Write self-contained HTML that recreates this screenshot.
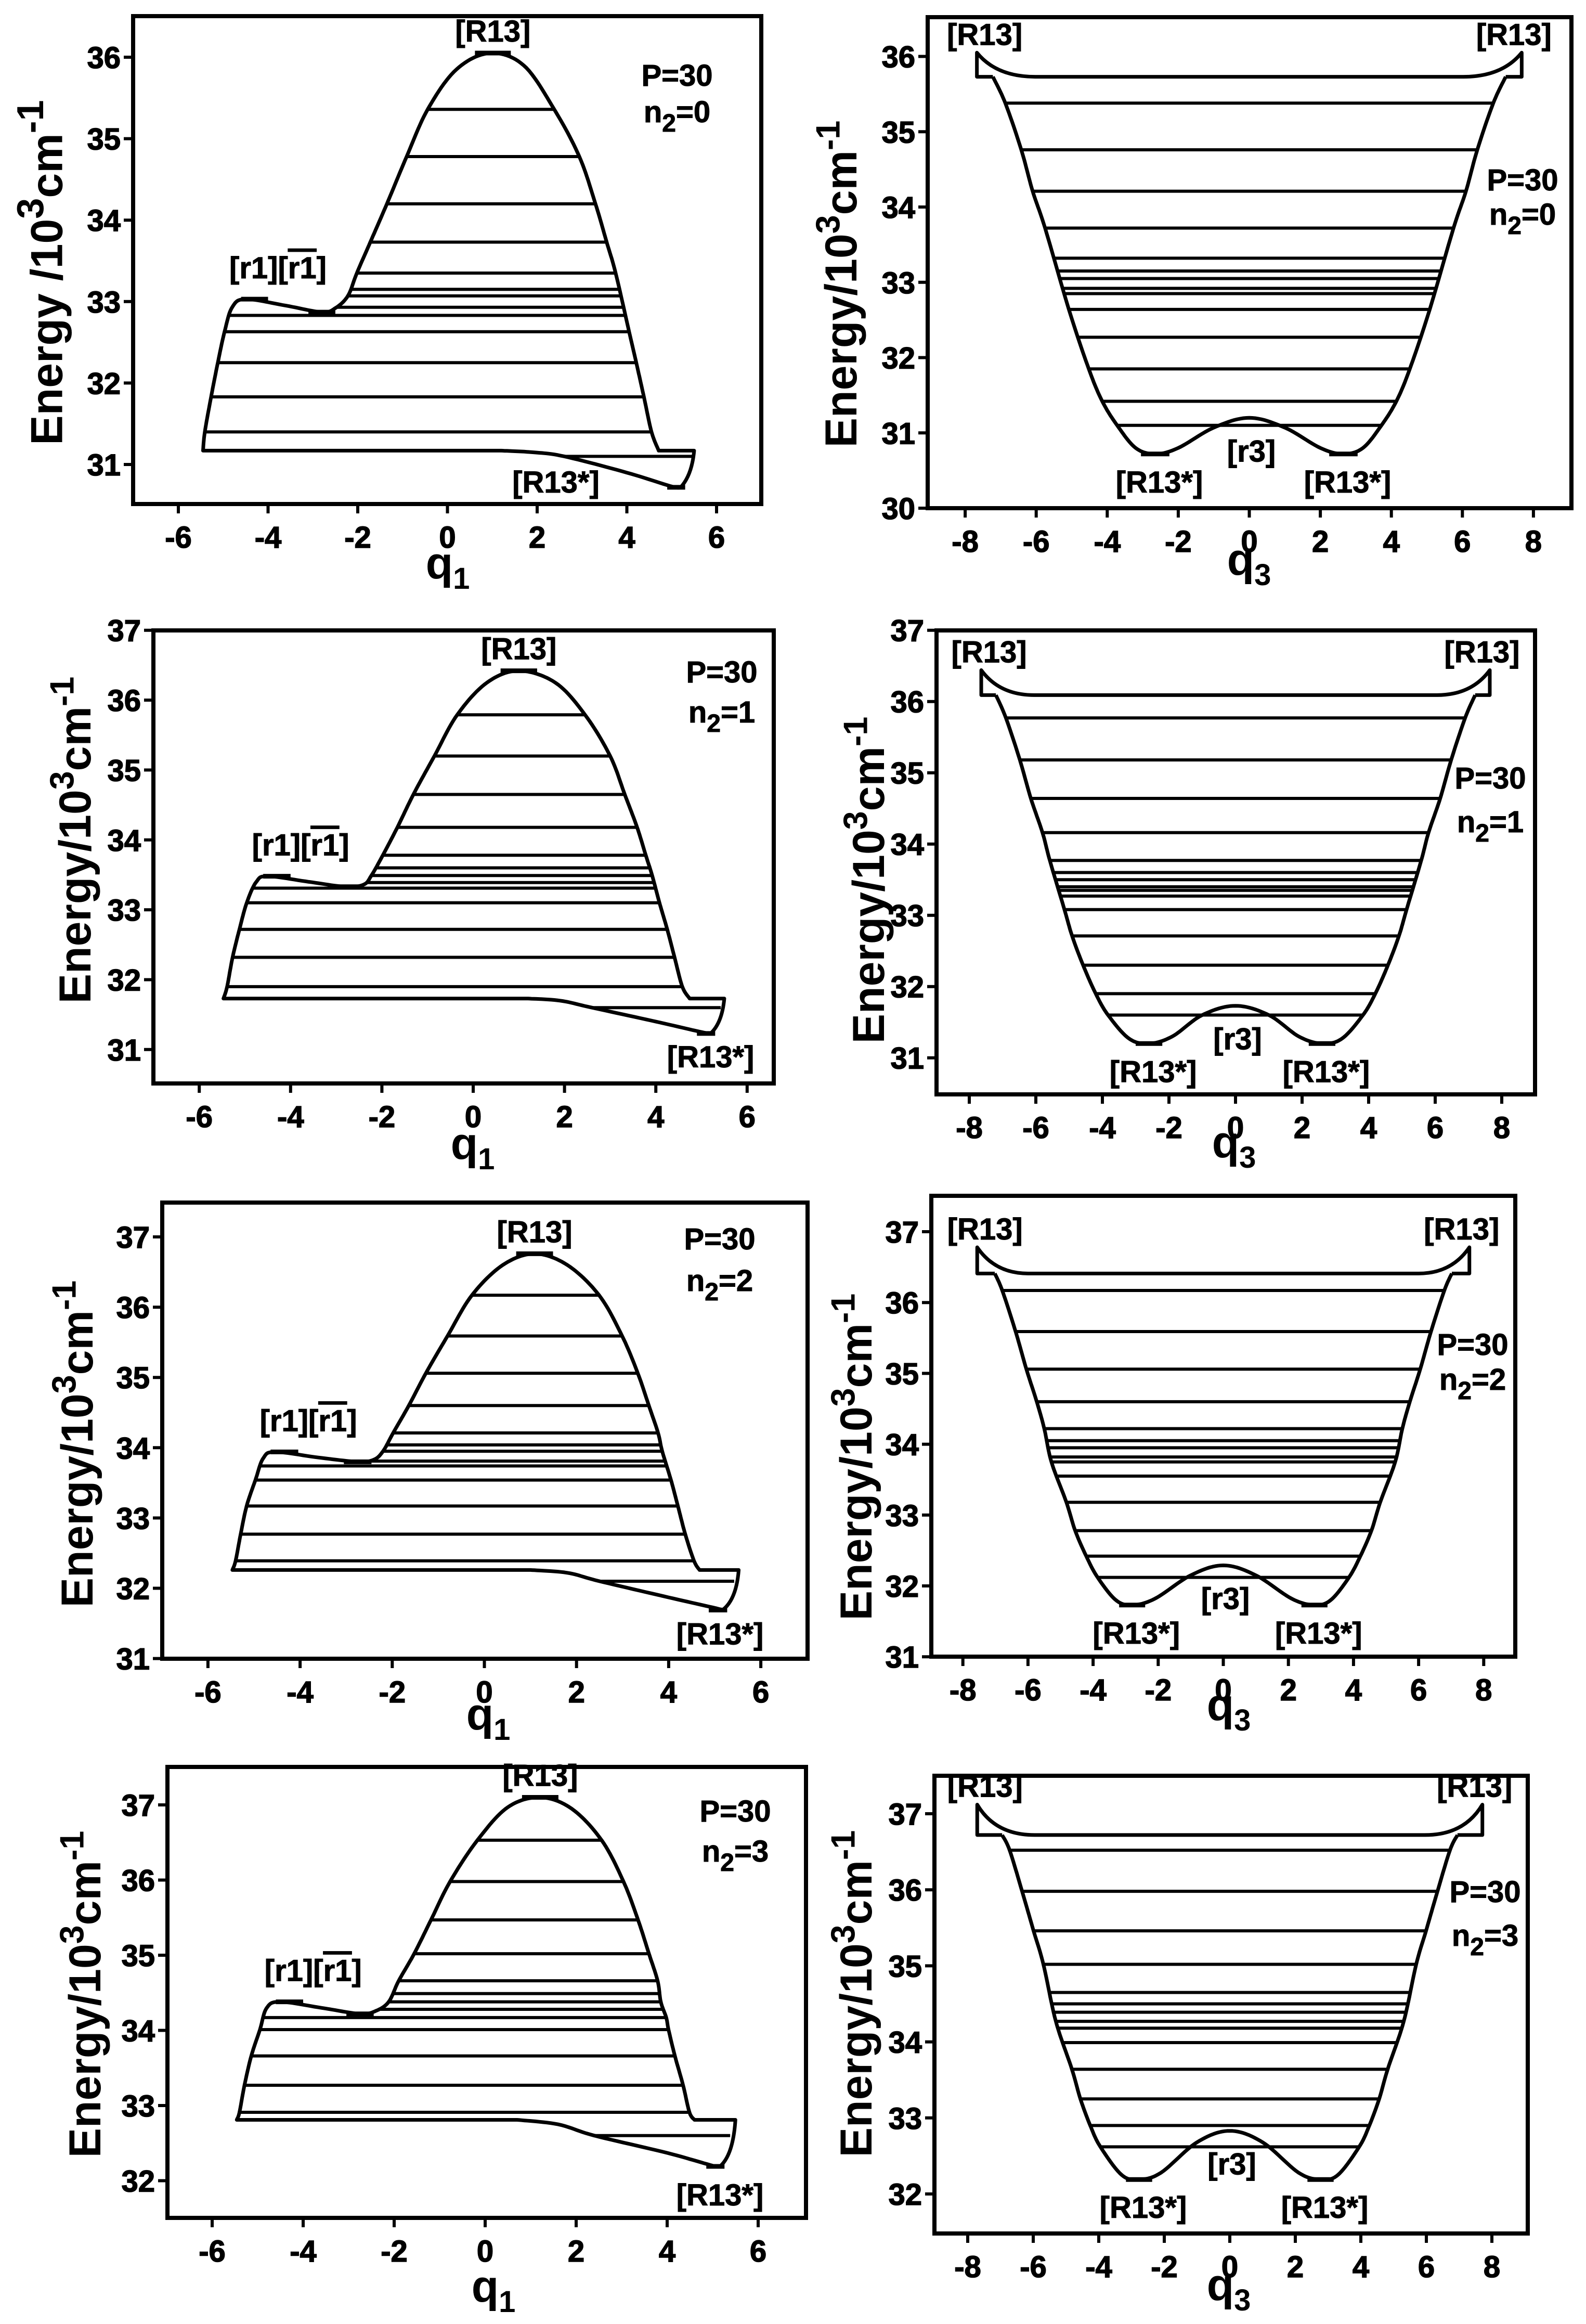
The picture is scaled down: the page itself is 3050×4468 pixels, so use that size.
<!DOCTYPE html>
<html lang="en">
<head>
<meta charset="utf-8">
<title>Energy level diagrams P=30</title>
<style>
  html,body{margin:0;padding:0;background:#fff;}
  svg{display:block;}
  .tick{font-family:"Liberation Sans Narrow","Liberation Sans",sans-serif;font-weight:bold;font-size:58px;fill:#000;stroke:#000;stroke-width:1.5px;}
  .ann{font-family:"Liberation Sans Narrow","Liberation Sans",sans-serif;font-weight:bold;font-size:58px;fill:#000;stroke:#000;stroke-width:1px;}
  .title{font-family:"Liberation Sans",sans-serif;font-weight:bold;font-size:86px;fill:#000;}
</style>
</head>
<body>
<svg id="chart" xmlns="http://www.w3.org/2000/svg" width="3050" height="4468" viewBox="0 0 3050 4468">
  <rect x="0" y="0" width="3050" height="4468" fill="#fff"/>
</svg>
<script>
// ---------------- data ----------------
const leftXTicks = [-6,-4,-2,0,2,4,6];
const rightXTicks = [-8,-6,-4,-2,0,2,4,6,8];
const p1YTicks = [31,32,33,34,35,36];
const p2YTicks = [30,31,32,33,34,35,36];
const p3YTicks = [31,32,33,34,35,36,37];
const p4YTicks = [31,32,33,34,35,36,37];
const p5YTicks = [31,32,33,34,35,36,37];
const p6YTicks = [31,32,33,34,35,36,37];
const p7YTicks = [32,33,34,35,36,37];
const p8YTicks = [32,33,34,35,36,37];

const p1Curve = [[-5.45,31.17],[-5.41,31.4],[-5.27,31.83],[-5.12,32.25],[-4.97,32.63],[-4.8,32.93],[-4.5,33.03],[-3.6,32.95],[-2.8,32.87],[-2.5,32.92],[-2.22,33.07],[-2.02,33.35],[-1.72,33.73],[-1.35,34.2],[-0.91,34.78],[-0.44,35.36],[0.2,35.85],[0.95,36.05],[1.7,35.9],[2.38,35.36],[2.94,34.78],[3.3,34.2],[3.55,33.73],[3.75,33.35],[4.05,32.63],[4.21,32.25],[4.38,31.83],[4.55,31.4],[4.71,31.17]];
const p1Levels = [31.4,31.83,32.25,32.63,32.83,32.93,33.07,33.15,33.35,33.73,34.2,34.78,35.36];
const p1Tail = [[1.2,31.17],[1.9,31.15],[2.6,31.1],[4.0,30.9],[5.0,30.73],[5.2,30.72]];
const p1TailLevels = [31.1];
const p1Right = [5.5];
const p1R1 = [-4.5,33.03];
const p1Dip = [-2.8,32.87];

const p3Curve = [[-5.47,31.73],[-5.39,31.9],[-5.27,32.32],[-5.12,32.72],[-4.96,33.1],[-4.75,33.4],[-4.5,33.48],[-3.6,33.4],[-2.8,33.33],[-2.4,33.36],[-2.23,33.49],[-1.98,33.78],[-1.66,34.18],[-1.31,34.65],[-0.85,35.2],[-0.35,35.79],[0.3,36.25],[1.0,36.42],[1.8,36.25],[2.45,35.79],[3.0,35.2],[3.32,34.65],[3.59,34.18],[3.78,33.78],[3.92,33.49],[4.08,33.1],[4.25,32.72],[4.41,32.32],[4.58,31.9],[4.74,31.73]];
const p3Levels = [31.9,32.32,32.72,33.1,33.31,33.39,33.49,33.6,33.78,34.18,34.65,35.2,35.79];
const p3Tail = [[1.2,31.73],[1.9,31.7],[2.6,31.6],[4.0,31.4],[5.0,31.25],[5.2,31.23]];
const p3TailLevels = [31.6];
const p3Right = [5.5];
const p3R1 = [-4.5,33.48];
const p3Dip = [-2.8,33.33];

const p5Curve = [[-5.47,32.26],[-5.4,32.39],[-5.29,32.77],[-5.16,33.17],[-4.97,33.54],[-4.8,33.85],[-4.54,33.94],[-3.6,33.86],[-2.75,33.8],[-2.4,33.83],[-2.2,33.95],[-1.98,34.21],[-1.64,34.6],[-1.27,35.06],[-0.8,35.59],[-0.27,36.17],[0.4,36.6],[1.09,36.76],[1.8,36.6],[2.49,36.17],[2.99,35.59],[3.33,35.06],[3.57,34.6],[3.77,34.21],[3.86,33.95],[4.05,33.54],[4.2,33.17],[4.36,32.77],[4.55,32.39],[4.67,32.26]];
const p5Levels = [32.39,32.77,33.17,33.54,33.74,33.81,33.95,34.04,34.21,34.6,35.06,35.59,36.17];
const p5Tail = [[1.0,32.26],[1.8,32.22],[2.5,32.1],[4.0,31.87],[5.0,31.72],[5.17,31.69]];
const p5TailLevels = [32.1];
const p5Right = [5.52];
const p5R1 = [-4.54,33.94];
const p5Dip = [-2.75,33.8];

const p7Curve = [[-5.46,32.81],[-5.4,32.91],[-5.29,33.27],[-5.14,33.66],[-4.95,34.01],[-4.8,34.3],[-4.5,34.38],[-3.6,34.3],[-2.75,34.22],[-2.4,34.26],[-2.12,34.38],[-1.9,34.66],[-1.56,35.02],[-1.19,35.47],[-0.77,35.98],[-0.17,36.53],[0.5,36.97],[1.21,37.1],[1.9,36.95],[2.56,36.53],[3.04,35.98],[3.36,35.47],[3.6,35.02],[3.79,34.66],[3.86,34.38],[3.98,34.17],[4.03,34.01],[4.17,33.66],[4.35,33.27],[4.49,32.91],[4.6,32.81]];
const p7Levels = [32.91,33.27,33.66,34.01,34.17,34.28,34.38,34.49,34.66,35.02,35.47,35.98,36.53];
const p7Tail = [[0.7,32.81],[1.6,32.75],[2.4,32.6],[4.0,32.37],[5.0,32.2],[5.16,32.19]];
const p7TailLevels = [32.6];
const p7Right = [5.5];
const p7R1 = [-4.5,34.38];
const p7Dip = [-2.75,34.22];

const p2Half = [[-7.22,35.73],[-6.87,35.38],[-6.42,34.76],[-6.1,34.21],[-5.75,33.72],[-5.08,32.64],[-4.52,31.85],[-4.14,31.42],[-3.72,31.1],[-3.2,30.8],[-2.65,30.72],[-2.0,30.8],[-1.0,31.07],[0,31.2]];
const p2Cap = [-7.67,36.05,-6.03,35.73];
const p2Levels = [31.1,31.42,31.85,32.27,32.64,32.85,32.92,33.05,33.15,33.32,33.72,34.21,34.76,35.38];

const p4Half = [[-7.2,36.09],[-6.9,35.77],[-6.48,35.18],[-6.15,34.64],[-5.8,34.16],[-5.58,33.77],[-5.14,33.08],[-4.91,32.71],[-4.58,32.3],[-4.2,31.9],[-3.83,31.6],[-3.2,31.27],[-2.6,31.2],[-1.9,31.3],[-1.0,31.6],[0,31.73]];
const p4Cap = [-7.64,36.44,-6.05,36.09];
const p4Levels = [31.6,31.9,32.3,32.71,33.08,33.27,33.35,33.4,33.5,33.6,33.77,34.16,34.64,35.18,35.77];

const p6Half = [[-7.02,36.41],[-6.79,36.17],[-6.38,35.59],[-6.05,35.06],[-5.73,34.6],[-5.5,34.22],[-5.28,33.75],[-4.82,33.18],[-4.55,32.78],[-4.21,32.42],[-3.86,32.12],[-3.3,31.8],[-2.8,31.73],[-2.1,31.82],[-1.0,32.15],[0,32.29]];
const p6Cap = [-7.56,36.78,-6.0,36.41];
const p6Levels = [32.12,32.42,32.78,33.18,33.55,33.75,33.82,33.95,34.05,34.22,34.6,35.06,35.59,36.17];

const p8Half = [[-6.95,36.72],[-6.72,36.52],[-6.34,35.98],[-5.99,35.46],[-5.69,35.02],[-5.31,34.27],[-4.82,33.64],[-4.56,33.25],[-4.26,32.9],[-3.95,32.62],[-3.3,32.25],[-2.77,32.19],[-2.1,32.28],[-1.0,32.68],[0,32.83]];
const p8Cap = [-7.71,37.12,-5.96,36.72];
const p8Levels = [32.62,32.9,33.25,33.64,33.99,34.18,34.27,34.39,34.5,34.65,35.02,35.46,35.98,36.52];

// ---------------- layout (pixels) ----------------
const layouts = {
  p1:{frame:[256,31,1464,969],x0:860.5,xs:86.25,eRef:36,yRef:110,ys:156.6,ytitle:[86,524],ytSize:96,xtitle:[861,1112],pn:[1302,143,213],n2:'0',sep:' /10',r13s:[-240,-10]},
  p2:{frame:[1784,33,3022,977],x0:2402.5,xs:68.3,eRef:36,yRef:108.5,ys:144.75,ytitle:[1617,546],ytSize:86,xtitle:[2402,1105],pn:[2928,344,410],n2:'0',sep:'/10'},
  p3:{frame:[295,1212,1488,2083],x0:910,xs:87.8,eRef:37,yRef:1211.7,ys:134.35,ytitle:[144,1615],ytSize:86,xtitle:[909,2228],pn:[1388,1290,1367],n2:'1',sep:'/10',r13s:[0,45]},
  p4:{frame:[1801,1212,2952,2104],x0:2376,xs:64,eRef:37,yRef:1211.7,ys:137,ytitle:[1670,1692],ytSize:86,xtitle:[2373,2225],pn:[2866,1494,1578],n2:'1',sep:'/10'},
  p5:{frame:[312,2312,1553,3189],x0:931.5,xs:88.6,eRef:37,yRef:2378,ys:135.1,ytitle:[148,2776],ytSize:86,xtitle:[939,3325],pn:[1384,2380,2460],n2:'2',sep:'/10',r13s:[-5,46]},
  p6:{frame:[1791,2299,2914,3185],x0:2352.5,xs:62.6,eRef:37,yRef:2368,ys:136.2,ytitle:[1646,2801],ytSize:86,xtitle:[2363,3307],pn:[2832,2583,2650],n2:'2',sep:'/10'},
  p7:{frame:[322,3397,1550,4264],x0:933,xs:87.5,eRef:37,yRef:3470,ys:144.5,ytitle:[163,3834],ytSize:86,xtitle:[949,4425],pn:[1414,3480,3557],n2:'3',sep:'/10',r13s:[0,55]},
  p8:{frame:[1797,3414,2938,4294],x0:2365,xs:63,eRef:37,yRef:3487,ys:146.2,ytitle:[1646,3833],ytSize:86,xtitle:[2363,4422],pn:[2856,3635,3719],n2:'3',sep:'/10'}
};

// ---------------- helpers ----------------
const NS = 'http://www.w3.org/2000/svg';
const svg = document.getElementById('chart');
function mk(tag, attrs, parent){
  const e = document.createElementNS(NS, tag);
  for (const k in attrs) e.setAttribute(k, attrs[k]);
  (parent || svg).appendChild(e);
  return e;
}
function sample(pts){
  const out=[]; const n=pts.length;
  for(let i=0;i<n-1;i++){
    const p0=pts[Math.max(i-1,0)],p1=pts[i],p2=pts[i+1],p3=pts[Math.min(i+2,n-1)];
    for(let k=0;k<12;k++){
      const t=k/12,t2=t*t,t3=t2*t;
      const f=(a,b,c,d)=>0.5*(2*b+(-a+c)*t+(2*a-5*b+4*c-d)*t2+(-a+3*b-3*c+d)*t3);
      out.push([f(p0[0],p1[0],p2[0],p3[0]),f(p0[1],p1[1],p2[1],p3[1])]);
    }
  }
  out.push(pts[n-1]);
  return out;
}
function scales(L){
  return {sx:q=>L.x0+q*L.xs, sy:E=>L.yRef+(L.eRef-E)*L.ys};
}
function pathFrom(s, S){
  return s.map((p,i)=>(i?'L':'M')+S.sx(p[0]).toFixed(1)+' '+S.sy(p[1]).toFixed(1)).join(' ');
}
function interpX(a,b,E){ return a[0]+(E-a[1])/(b[1]-a[1])*(b[0]-a[0]); }

function drawAxes(g, L, S, yTicks, xTicks, xVar, id){
  const [x1,y1,x2,y2]=L.frame;
  const fr = mk('rect',{x:x1,y:y1,width:x2-x1,height:y2-y1,fill:'none',stroke:'#000','stroke-width':8},g);
  
  
  yTicks.forEach(v=>{
    const y=S.sy(v);
    const t=mk('line',{x1:x1-18,y1:y,x2:x1,y2:y,stroke:'#000','stroke-width':6},g);
    
    
    const lb=mk('text',{x:x1-24,y:y+21,'text-anchor':'end',class:'tick'},g);
    lb.textContent=String(v);
    
    
  });
  xTicks.forEach(v=>{
    const x=S.sx(v);
    const t=mk('line',{x1:x,y1:y2,x2:x,y2:y2+18,stroke:'#000','stroke-width':6},g);
    
    
    const lb=mk('text',{x:x,y:y2+84,'text-anchor':'middle',class:'tick'},g);
    lb.textContent=String(v);
    
    
  });
  const fs=L.ytSize;
  const yt=mk('text',{x:0,y:0,'text-anchor':'middle',class:'title','font-size':fs,transform:'translate('+L.ytitle[0]+','+(L.ytitle[1])+') rotate(-90) translate(0,'+(fs*0.35)+')'},g);
  
  
  let a=mk('tspan',{},yt); a.textContent='Energy'+L.sep;
  let b=mk('tspan',{dy:-fs*0.38,'font-size':fs*0.75},yt); b.textContent='3';
  let c=mk('tspan',{dy:fs*0.38},yt); c.textContent='cm';
  let d=mk('tspan',{dy:-fs*0.38,'font-size':fs*0.75},yt); d.textContent='-1';
  const xt=mk('text',{x:L.xtitle[0],y:L.xtitle[1],'text-anchor':'middle',class:'title','font-size':80},g);
  
  
  let q=mk('tspan',{},xt); q.textContent='q';
  let qs=mk('tspan',{dy:20,'font-size':58},xt); qs.textContent=xVar;
  const p=mk('text',{x:L.pn[0],y:L.pn[1]+22,'text-anchor':'middle',class:'ann','font-size':62},g);
  p.textContent='P=30';
  
  
  const n=mk('text',{x:L.pn[0],y:L.pn[2]+22,'text-anchor':'middle',class:'ann','font-size':62},g);
  
  
  let n1=mk('tspan',{},n); n1.textContent='n';
  let n2=mk('tspan',{dy:18,'font-size':48},n); n2.textContent='2';
  let n3=mk('tspan',{dy:-18},n); n3.textContent='='+L.n2;
}

function mark(g,S,xa,xb,E,name){
  const m=mk('line',{x1:S.sx(xa),y1:S.sy(E),x2:S.sx(xb),y2:S.sy(E),stroke:'#000','stroke-width':9},g);
  
  
}

function drawLeft(id, L, curve, levels, tail, tailLevels, right, r1, dip, yTicks){
  const g=mk('g',{});
  
  
  const S=scales(L);
  drawAxes(g,L,S,yTicks,leftXTicks,'1',id);
  const s=sample(curve);
  const base=curve[0][1];
  let pk=0; s.forEach((p,i)=>{ if(p[1]>s[pk][1]) pk=i; });
  levels.forEach(E=>{
    let i=pk; while(i>0 && s[i-1][1]>E) i--;
    const xl = i===0 ? s[0][0] : interpX(s[i-1],s[i],E);
    let j=pk; while(j<s.length-1 && s[j+1][1]>E) j++;
    const xr = j===s.length-1 ? s[j][0] : interpX(s[j],s[j+1],E);
    const ln=mk('line',{x1:S.sx(xl),y1:S.sy(E),x2:S.sx(xr),y2:S.sy(E),stroke:'#000','stroke-width':6},g);
    
    
  });
  const ts=sample(tail);
  const tEnd=tail[tail.length-1];
  const vx=right[0];
  tailLevels.forEach(E=>{
    let k=0; while(k<ts.length-1 && ts[k+1][1]>E) k++;
    const xl=interpX(ts[k],ts[Math.min(k+1,ts.length-1)],E);
    const xr=tEnd[0]+(E-tEnd[1])/(base-tEnd[1])*(vx-tEnd[0]);
    const ln=mk('line',{x1:S.sx(xl),y1:S.sy(E),x2:S.sx(xr),y2:S.sy(E),stroke:'#000','stroke-width':6},g);
    
    
  });
  let d = pathFrom(s,S);
  d += ' L'+S.sx(vx)+' '+S.sy(base);
  d += ' Q'+S.sx(vx-0.05)+' '+S.sy(tEnd[1]+0.15)+' '+S.sx(tEnd[0])+' '+S.sy(tEnd[1]);
  const tr = ts.slice().reverse();
  d += ' '+tr.map(p=>'L'+S.sx(p[0]).toFixed(1)+' '+S.sy(p[1]).toFixed(1)).join(' ');
  d += ' L'+S.sx(curve[0][0])+' '+S.sy(base)+' Z';
  const pth=mk('path',{d:d,fill:'none',stroke:'#000','stroke-width':7,'stroke-linejoin':'round'},g);
  
  
  const peak=s[pk];
  mark(g,S,peak[0]-0.4,peak[0]+0.4,peak[1],id+'-r13-mark');
  mark(g,S,r1[0]-0.1,r1[0]+0.5,r1[1],id+'-r1-mark');
  mark(g,S,dip[0]-0.3,dip[0]+0.3,dip[1],id+'-r1bar-mark');
  mark(g,S,tEnd[0]-0.3,tEnd[0]+0.1,tEnd[1],id+'-r13star-mark');
  const t1=mk('text',{x:S.sx(peak[0]),y:S.sy(peak[1])-22,'text-anchor':'middle',class:'ann'},g);
  t1.textContent='[R13]';
  
  
  const t2=mk('text',{x:S.sx(r1[0]+0.72),y:S.sy(r1[1])-40,'text-anchor':'middle',class:'ann','font-size':62},g);
  
  
  let a=mk('tspan',{},t2); a.textContent='[r1][';
  let b=mk('tspan',{style:'text-decoration:overline'},t2); b.textContent='r1';
  let c=mk('tspan',{},t2); c.textContent=']';
  const t4=mk('text',{x:S.sx(tEnd[0])+L.r13s[0],y:S.sy(tEnd[1])+L.r13s[1]+20,'text-anchor':'middle',class:'ann'},g);
  t4.textContent='[R13*]';
  
  
}

function drawRight(id, L, half, cap, levels, yTicks){
  const g=mk('g',{});
  
  
  const S=scales(L);
  drawAxes(g,L,S,yTicks,rightXTicks,'3',id);
  const full = half.concat(half.slice(0,-1).reverse().map(p=>[-p[0],p[1]]));
  const s=sample(full);
  levels.forEach(E=>{
    let i=0; while(i<s.length-1 && s[i+1][1]>E) i++;
    const xl=interpX(s[i],s[i+1],E);
    let j=s.length-1; while(j>0 && s[j-1][1]>E) j--;
    const xr=interpX(s[j-1],s[j],E);
    const ln=mk('line',{x1:S.sx(xl),y1:S.sy(E),x2:S.sx(xr),y2:S.sy(E),stroke:'#000','stroke-width':6},g);
    
    
  });
  const [cx,ct,fx,fl]=cap;
  const pth=mk('path',{d:pathFrom(s,S),fill:'none',stroke:'#000','stroke-width':7,'stroke-linejoin':'round'},g);
  
  
  let d='M'+S.sx(full[0][0])+' '+S.sy(fl)+' L'+S.sx(cx)+' '+S.sy(fl)+' L'+S.sx(cx)+' '+S.sy(ct);
  d+=' Q'+S.sx(cx+0.55)+' '+S.sy(fl)+' '+S.sx(fx)+' '+S.sy(fl);
  d+=' L'+S.sx(-fx)+' '+S.sy(fl);
  d+=' Q'+S.sx(-cx-0.55)+' '+S.sy(fl)+' '+S.sx(-cx)+' '+S.sy(ct);
  d+=' L'+S.sx(-cx)+' '+S.sy(fl)+' L'+S.sx(-full[0][0])+' '+S.sy(fl);
  const cp=mk('path',{d:d,fill:'none',stroke:'#000','stroke-width':7,'stroke-linejoin':'round'},g);
  
  
  let mi=0; half.forEach((p,i)=>{ if(p[1]<half[mi][1]) mi=i; });
  const mn=half[mi]; const bar=half[half.length-1];
  mark(g,S,mn[0]-0.4,mn[0]+0.4,mn[1],id+'-left-min-mark');
  mark(g,S,-mn[0]-0.4,-mn[0]+0.4,mn[1],id+'-right-min-mark');
  [[cx,'left'],[-cx,'right']].forEach(([x,side])=>{
    const t=mk('text',{x:S.sx(x)+(side==='left'?15:-15),y:S.sy(ct)-15,'text-anchor':'middle',class:'ann'},g);
    t.textContent='[R13]';
    
    
  });
  [[mn[0],'left'],[-mn[0],'right']].forEach(([x,side])=>{
    const t=mk('text',{x:S.sx(x)+8,y:S.sy(mn[1])+74,'text-anchor':'middle',class:'ann'},g);
    t.textContent='[R13*]';
    
    
  });
  const r3=mk('text',{x:S.sx(bar[0])+4,y:S.sy(bar[1])+84,'text-anchor':'middle',class:'ann','font-size':62},g);
  r3.textContent='[r3]';
  
  
}

drawLeft('p1', layouts.p1, p1Curve, p1Levels, p1Tail, p1TailLevels, p1Right, p1R1, p1Dip, p1YTicks);
drawRight('p2', layouts.p2, p2Half, p2Cap, p2Levels, p2YTicks);
drawLeft('p3', layouts.p3, p3Curve, p3Levels, p3Tail, p3TailLevels, p3Right, p3R1, p3Dip, p3YTicks);
drawRight('p4', layouts.p4, p4Half, p4Cap, p4Levels, p4YTicks);
drawLeft('p5', layouts.p5, p5Curve, p5Levels, p5Tail, p5TailLevels, p5Right, p5R1, p5Dip, p5YTicks);
drawRight('p6', layouts.p6, p6Half, p6Cap, p6Levels, p6YTicks);
drawLeft('p7', layouts.p7, p7Curve, p7Levels, p7Tail, p7TailLevels, p7Right, p7R1, p7Dip, p7YTicks);
drawRight('p8', layouts.p8, p8Half, p8Cap, p8Levels, p8YTicks);
</script>
</body>
</html>
